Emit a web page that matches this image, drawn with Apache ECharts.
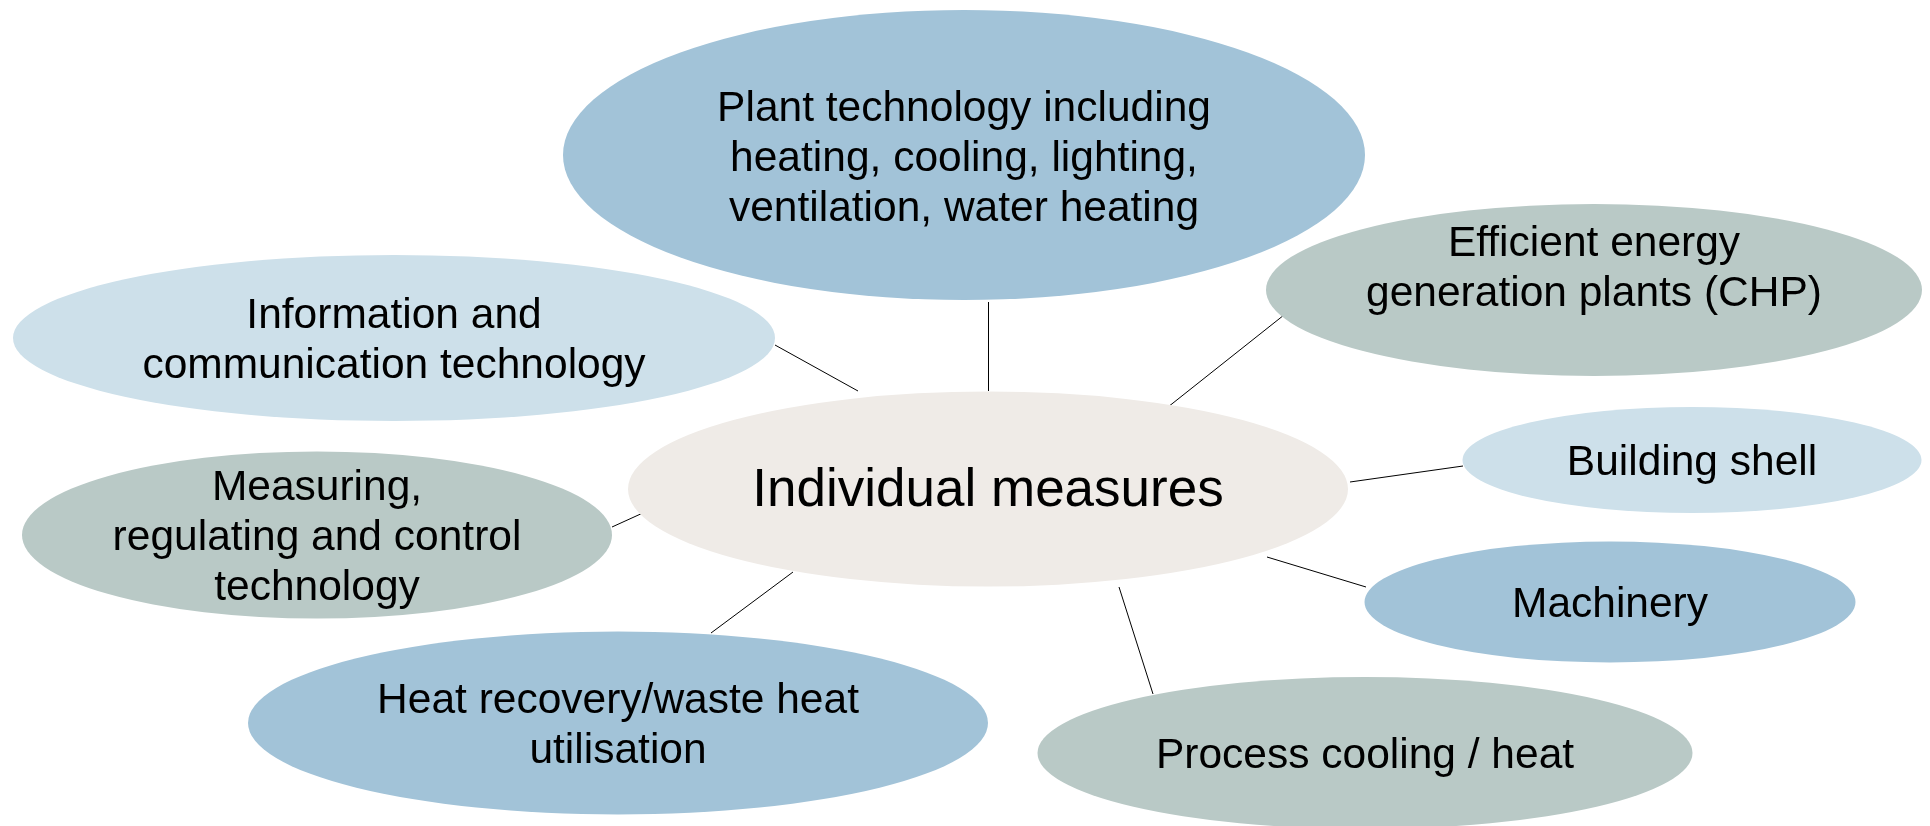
<!DOCTYPE html>
<html>
<head>
<meta charset="utf-8">
<script src="https://cdn.jsdelivr.net/npm/echarts@6/dist/echarts.min.js"></script>
<style>
  html, body { margin: 0; padding: 0; background: #fff; }
  #main { width: 1930px; height: 826px; }
</style>
</head>
<body>
<div id="main"></div>
<script>
// topic labels (one per ellipse), center node first
var labels = [
  'Individual measures',
  'Plant technology including\nheating, cooling, lighting,\nventilation, water heating',
  'Information and\ncommunication technology',
  'Efficient energy\ngeneration plants (CHP)',
  'Building shell',
  'Measuring,\nregulating and control\ntechnology',
  'Machinery',
  'Heat recovery/waste heat\nutilisation',
  'Process cooling / heat'
];
var tone = ['beige', 'blue', 'light', 'grey', 'light', 'grey', 'blue', 'blue', 'grey'];

// layout of the diagram (pixel space of the 1930x826 canvas)
var centerX = [988, 964, 394, 1594, 1692, 317, 1610, 618, 1365];
var centerY = [489, 155, 338, 290, 460, 535, 602, 723, 753];
var boxW = [720, 802, 762, 656, 459, 590, 491, 740, 655];
var boxH = [195, 290, 166, 172, 106, 167, 121, 183, 152];
var labelShift = [2, 4, 3, -21, 3, 3, 3, 3, 3];

// connector segments [x1, y1, x2, y2]
var links = [
  [988, 302, 988, 391],
  [775, 345, 858, 391],
  [1284, 315, 1168, 407],
  [1463, 466, 1350, 482],
  [1267, 557, 1366, 587],
  [1119, 587, 1153, 694],
  [612, 527, 645, 512],
  [711, 633, 793, 572]
];

var palette = { beige: '#efebe7', blue: '#a2c3d8', light: '#cde0ea', grey: '#b9c9c6' };
var ellipsePath = 'path://M0,50 A50,50 0 1,1 100,50 A50,50 0 1,1 0,50 Z';

var nodes = [];
for (var i = 0; i < labels.length; i++) {
  nodes.push({
    value: [centerX[i], centerY[i]],
    symbolSize: [boxW[i], boxH[i]],
    itemStyle: { color: palette[tone[i]], opacity: 1 },
    label: {
      show: true,
      position: 'inside',
      formatter: labels[i],
      offset: [0, labelShift[i]],
      color: '#000',
      opacity: 1,
      fontFamily: 'Liberation Sans, Arial, sans-serif',
      fontSize: i === 0 ? 53 : 42.5,
      lineHeight: 50
    }
  });
}

var segs = links.map(function (l) {
  return { coords: [[l[0], l[1]], [l[2], l[3]]] };
});

var chart = echarts.init(document.getElementById('main'));
chart.setOption({
  animation: false,
  grid: { left: 0, right: 0, top: 0, bottom: 0 },
  xAxis: { type: 'value', min: 0, max: 1930, show: false },
  yAxis: { type: 'value', min: 0, max: 826, inverse: true, show: false },
  series: [
    {
      type: 'lines',
      coordinateSystem: 'cartesian2d',
      data: segs,
      z: 1,
      lineStyle: { color: '#000', width: 1, opacity: 1 }
    },
    {
      type: 'scatter',
      symbol: ellipsePath,
      symbolKeepAspect: false,
      data: nodes,
      z: 2,
      itemStyle: { opacity: 1 },
      emphasis: { disabled: true }
    }
  ]
});
</script>
</body>
</html>
